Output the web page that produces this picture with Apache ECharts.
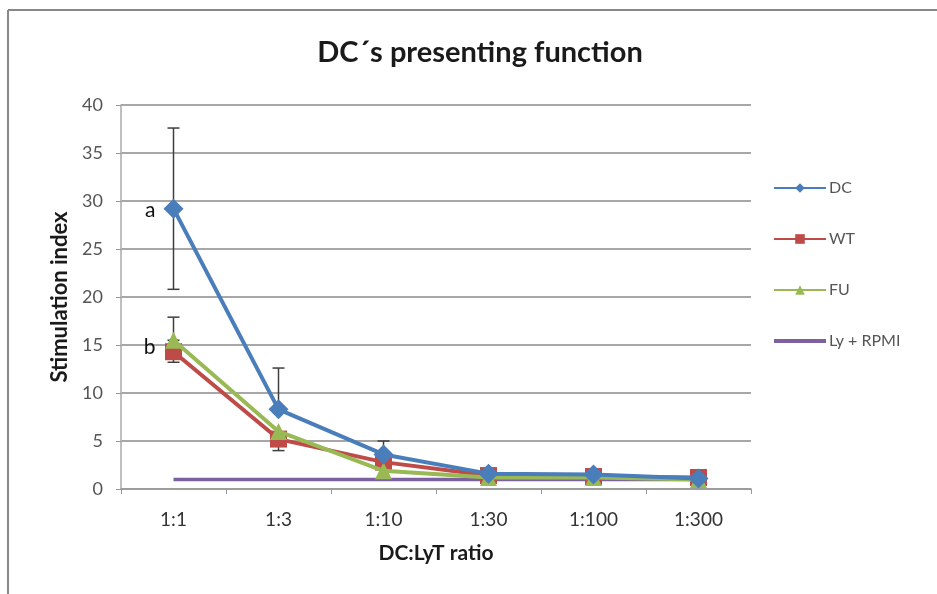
<!DOCTYPE html>
<html><head><meta charset="utf-8">
<script src="https://cdn.jsdelivr.net/npm/echarts@6/dist/echarts.min.js"></script>
<style>html,body{margin:0;padding:0;background:#fff}#c{width:937px;height:594px}</style>
</head><body><div id="c"></div>
<script>
var categories = ['1:1', '1:3', '1:10', '1:30', '1:100', '1:300'];
var dcValues = [29.2, 8.3, 3.6, 1.6, 1.5, 1.1];
var wtValues = [14.3, 5.2, 2.8, 1.4, 1.3, 1.2];
var fuValues = [15.5, 6.0, 1.9, 1.2, 1.2, 1.0];
var lyValues = [1.0, 1.0, 1.0, 1.0, 1.0, 1.0];
var dcErrUp = [8.4, 4.3, 1.4, 0.2, 0.3, 0.1];
var dcErrDown = [8.4, 0, 0, 0, 0, 0];
var wtErrUp = [0, 0, 0, 0, 0, 0];
var wtErrDown = [1.1, 1.2, 0, 0, 0, 0];
var fuErrUp = [2.4, 0, 0, 0, 0, 0];
var fuErrDown = [0, 0, 0, 0, 0, 0];
var yTicks = [0, 5, 10, 15, 20, 25, 30, 35, 40];
var yAxisTitle = 'Stimulation index';

function errData(vals, up, down) {
  return vals.map(function (v, i) { return [i, v - down[i], v + up[i]]; });
}
function errSeries(vals, up, down) {
  return {
    type: 'custom', z: 1, silent: true,
    data: errData(vals, up, down),
    renderItem: function (params, api) {
      var x = api.coord([api.value(0), 0])[0];
      var lo = api.coord([api.value(0), api.value(1)])[1];
      var hi = api.coord([api.value(0), api.value(2)])[1];
      var children = [];
      if (Math.abs(lo - hi) < 0.5) return { type: 'group', children: [] };
      var st = { stroke: '#3f3f3f', lineWidth: 1.5 };
      children.push({ type: 'line', shape: { x1: x, y1: lo, x2: x, y2: hi }, style: st });
      children.push({ type: 'line', shape: { x1: x - 6, y1: hi, x2: x + 6, y2: hi }, style: st });
      children.push({ type: 'line', shape: { x1: x - 6, y1: lo, x2: x + 6, y2: lo }, style: st });
      return { type: 'group', children: children };
    }
  };
}

var chart = echarts.init(document.getElementById('c'));
var font = 'Lato, "Open Sans", sans-serif';
chart.setOption({
  animation: false,
  backgroundColor: '#fff',
  title: {
    text: 'DC\u00b4s presenting function',
    left: 475, top: 33, textAlign: 'center',
    textStyle: { fontFamily: font, fontWeight: 'bold', fontSize: 29, color: '#1a1a1a' }
  },
  legend: {
    orient: 'vertical', left: 773, top: 180, padding: 0,
    itemWidth: 52, itemHeight: 12, itemGap: 35,
    textStyle: { fontFamily: font, fontSize: 16, color: '#555', padding: [0, 0, 0, -2] },
    data: ['DC', 'WT', 'FU', { name: 'Ly + RPMI', icon: 'path://M0,0L52,0L52,4L0,4Z' }]
  },
  grid: { left: 121, right: 186, top: 105, bottom: 105 },
  xAxis: {
    type: 'category', data: categories, boundaryGap: true,
    name: 'DC:LyT ratio', nameLocation: 'middle', nameGap: 54,
    nameTextStyle: { fontFamily: font, fontWeight: 'bold', fontSize: 21, color: '#1a1a1a' },
    axisLine: { lineStyle: { color: '#999', width: 1.5 } },
    axisTick: { show: true, length: 5, lineStyle: { color: '#999' } },
    axisLabel: { fontFamily: font, fontSize: 19, color: '#333', margin: 21 }
  },
  yAxis: {
    type: 'value', min: 0, max: 40, interval: 5,
    axisLine: { show: true, lineStyle: { color: '#aaa', width: 1.5 } },
    axisTick: { show: true, length: 5, lineStyle: { color: '#999' } },
    axisLabel: { fontFamily: font, fontSize: 18, color: '#555', margin: 18,
      formatter: function (v) { return yTicks.indexOf(v) >= 0 ? String(v) : ''; } },
    splitLine: { lineStyle: { color: '#8a8a8a', width: 1.5 } }
  },
  graphic: [
    { type: 'line', shape: { x1: 8, y1: 10, x2: 937, y2: 10 }, style: { stroke: '#888', lineWidth: 2 } },
    { type: 'line', shape: { x1: 8, y1: 10, x2: 8, y2: 594 }, style: { stroke: '#888', lineWidth: 2 } },
    { type: 'text', x: 60, y: 297, rotation: Math.PI / 2,
      style: { text: yAxisTitle, font: 'bold 22px Lato, "Open Sans", sans-serif', fill: '#1a1a1a',
        textAlign: 'center', textVerticalAlign: 'middle', align: 'center', verticalAlign: 'middle' } }
  ],
  series: [
    errSeries(dcValues, dcErrUp, dcErrDown),
    errSeries(wtValues, wtErrUp, wtErrDown),
    errSeries(fuValues, fuErrUp, fuErrDown),
    {
      name: 'Ly + RPMI', type: 'line', data: lyValues, symbol: 'none', z: 2,
      lineStyle: { color: '#7d60a0', width: 3.5 }, itemStyle: { color: '#7d60a0' }
    },
    {
      name: 'WT', type: 'line', data: wtValues, symbol: 'rect', symbolSize: 17, z: 3,
      lineStyle: { color: '#be4b48', width: 4 }, itemStyle: { color: '#be4b48' }
    },
    {
      name: 'FU', type: 'line', data: fuValues, symbol: 'triangle', symbolSize: 17, z: 4,
      lineStyle: { color: '#98b954', width: 4 }, itemStyle: { color: '#98b954' }
    },
    {
      name: 'DC', type: 'line', data: dcValues, symbol: 'diamond', symbolSize: 20, z: 5,
      lineStyle: { color: '#4a7ebb', width: 4 }, itemStyle: { color: '#4a7ebb' },
      markPoint: {
        symbol: 'circle', symbolSize: 0,
        label: { show: true, formatter: '{b}', position: 'left', distance: 0, offset: [-18, 2],
          fontFamily: font, fontSize: 21, color: '#111' },
        data: [
          { name: 'a', coord: [0, dcValues[0]] },
          { name: 'b', coord: [0, fuValues[0] - 0.5] }
        ]
      }
    }
  ]
});
</script>
</body></html>
